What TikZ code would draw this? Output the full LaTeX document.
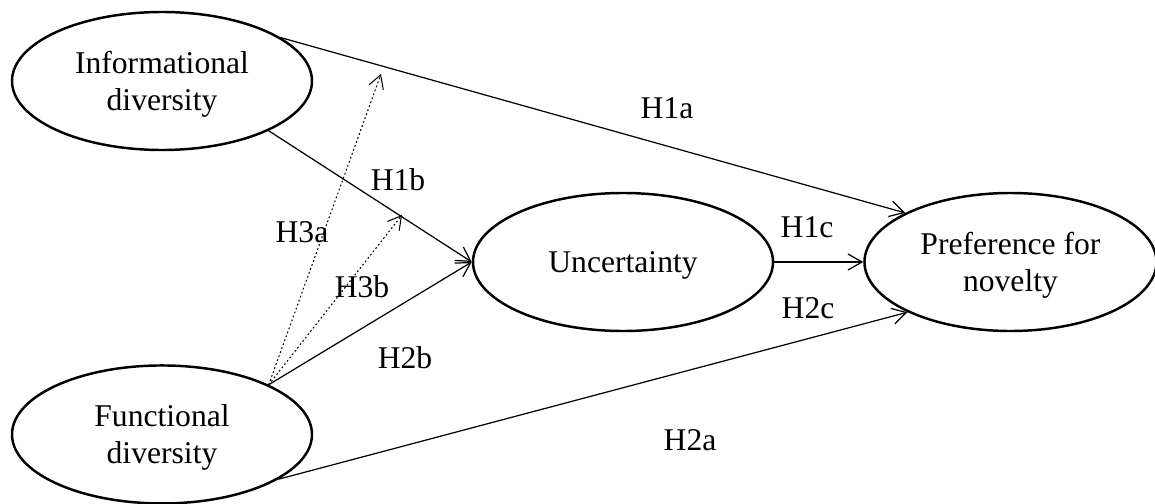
\documentclass[tikz,border=0pt]{standalone}
\usepackage{fontspec}
\setmainfont{Liberation Serif}
\usetikzlibrary{shapes.geometric, arrows.meta, positioning}
\tikzset{
  latent/.style ={ellipse, draw=black, line width=1.4pt, minimum width=6cm,
                  minimum height=2.76cm, inner sep=0pt, align=center, text depth=0pt,
                  font=\fontsize{18}{21}\selectfont},
  hyp/.style    ={inner sep=0pt, font=\fontsize{18}{21}\selectfont},
  flow/.style   ={-{Straight Barb[length=2.8mm, width=3.2mm]}, line width=0.7pt},
  modflow/.style={-{Straight Barb[length=2.6mm, width=3mm]}, line width=0.6pt,
                  dash pattern=on 1pt off 1.4pt},
}
\begin{document}
\begin{tikzpicture}[x=0.2mm, y=-0.2mm]
  \useasboundingbox (0,0) rectangle (1155,503);
  \node[latent] (info) at (162,81) {Informational\\diversity};
  \node[latent, below=4.26cm of info] (func) {Functional\\diversity};
  \node[latent] (unc) at (623,262) {Uncertainty};
  \node[latent, right=1.78cm of unc, minimum width=5.84cm] (pref) {Preference for\\novelty};
  % direct paths
  \draw[flow] (info.20) -- (pref.155);
  \draw[flow] (info.-25) -- (unc.west);
  \draw[flow] (unc.east) -- (pref.west);
  \draw[flow] (func.25) -- (unc.west);
  \draw[flow] (func.-21) -- (pref.-154);
  % moderation paths
  \coordinate (m1a) at (381,74);
  \coordinate (m1b) at (402,215);
  \draw[modflow] (func.25) -- (m1a);
  \draw[modflow] (func.25) -- (m1b);
  % labels
  \node[hyp] (h1a) at (667,108) {H1a};
  \node[hyp] (h1b) at (398,180) {H1b};
  \node[hyp] (h1c) at (807,227) {H1c};
  \node[hyp] (h2a) at (690,440) {H2a};
  \node[hyp] (h2b) at (405,358) {H2b};
  \node[hyp] (h2c) at (808,308) {H2c};
  \node[hyp] (h3a) at (302,232) {H3a};
  \node[hyp] (h3b) at (362,287) {H3b};
\end{tikzpicture}
\end{document}
